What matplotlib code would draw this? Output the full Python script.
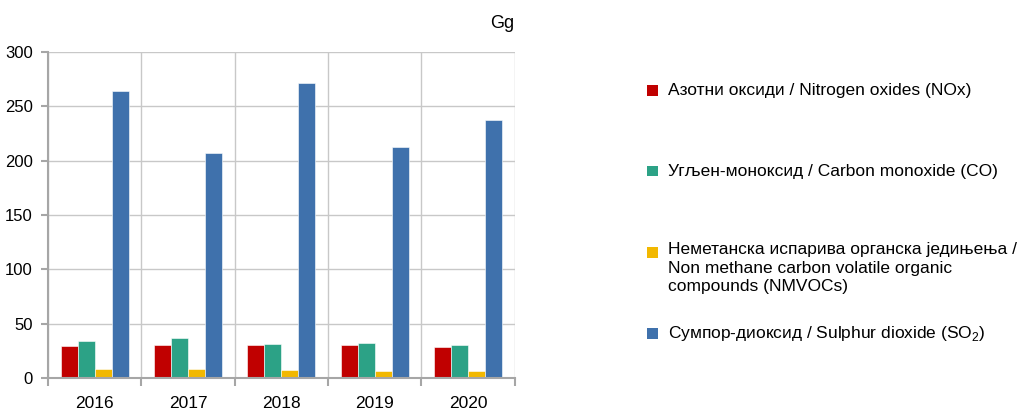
import matplotlib.pyplot as plt
import numpy as np
from matplotlib.patches import Rectangle

# Podaci (Gg)
godine = ["2016", "2017", "2018", "2019", "2020"]
nox = [29.5, 30.0, 30.7, 30.0, 28.8]
co = [33.7, 37.0, 31.6, 32.2, 30.7]
nmvoc = [8.0, 8.6, 7.4, 6.8, 6.1]
so2 = [263.7, 207.3, 271.3, 213.0, 237.0]

nazivi = ["Азотни оксиди / Nitrogen oxides (NOx)",
          "Угљен-моноксид / Carbon monoxide (CO)",
          "Неметанска испарива органска једињења /\nNon methane carbon volatile organic\ncompounds (NMVOCs)",
          "Сумпор-диоксид / Sulphur dioxide (SO$_2$)"]
boje = ["#C00000", "#2CA286", "#F2B800", "#3F71AC"]

plt.rcParams["font.family"] = ["Liberation Sans", "DejaVu Sans"]
plt.rcParams["mathtext.fontset"] = "custom"
plt.rcParams["mathtext.rm"] = "Liberation Sans"

fig = plt.figure(figsize=(10.21, 4.13), dpi=100)
ax = fig.add_axes([0.047, 0.085, 0.457, 0.789])

x = np.arange(len(godine))
w = 0.182
for i, serija in enumerate([nox, co, nmvoc, so2]):
    ax.bar(x + (i - 1.5) * w, serija, w, color=boje[i], edgecolor="white", linewidth=0.4, zorder=3)

ax.set_xlim(-0.5, len(godine) - 0.5)
ax.set_ylim(0, 300)
ax.set_yticks(range(0, 301, 50))
ax.set_xticks(x)
ax.set_xticklabels(godine)
ax.set_xticks(np.arange(-0.5, len(godine)), minor=True)
ax.tick_params(axis="x", which="major", length=0, pad=13, labelsize=12.5)
ax.tick_params(axis="x", which="minor", length=6, color="#A6A6A6", width=1.5, direction="out")
ax.tick_params(axis="y", length=5, color="#A6A6A6", width=1.5, pad=6, labelsize=12)
ax.grid(axis="y", color="#C8C8C8", linewidth=1, zorder=0)
ax.grid(axis="x", which="minor", color="#C8C8C8", linewidth=1, zorder=0)
for s in ["top", "right"]:
    ax.spines[s].set_visible(False)
for s in ["left", "bottom"]:
    ax.spines[s].set_color("#A6A6A6")
    ax.spines[s].set_linewidth(1.5)
    ax.spines[s].set_zorder(4)

fig.text(0.504, 0.944, "Gg", ha="right", va="center", fontsize=13)

# Legenda
leg_y = [0.78, 0.585, 0.388, 0.192]
for boja, naziv, yy in zip(boje, nazivi, leg_y):
    fig.patches.append(Rectangle((0.634, yy - 0.012), 0.0105, 0.026, transform=fig.transFigure,
                                 facecolor=boja, edgecolor="none"))
    if "\n" in naziv:
        fig.text(0.654, yy + 0.026, naziv, ha="left", va="top", fontsize=12.5, linespacing=1.3)
    else:
        fig.text(0.654, yy, naziv, ha="left", va="center", fontsize=12.5)

fig.savefig("out.png", dpi=100)
